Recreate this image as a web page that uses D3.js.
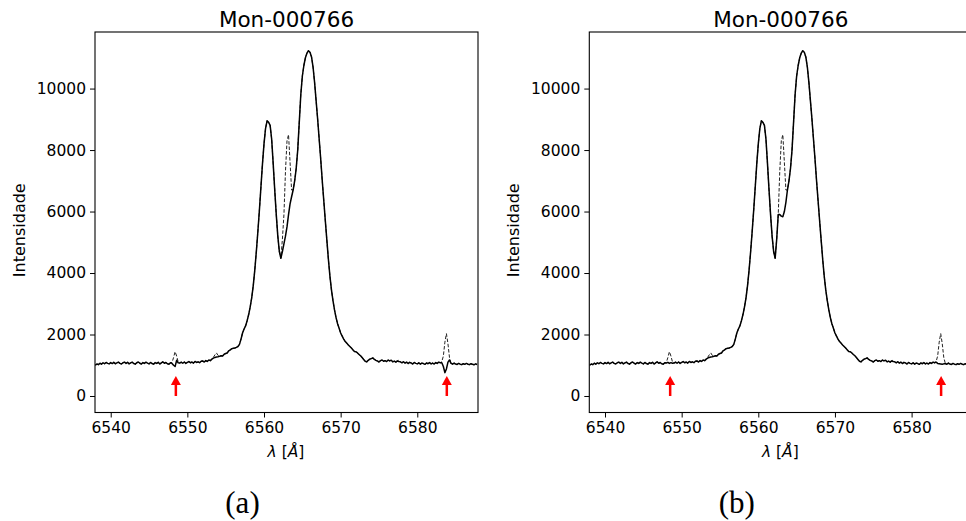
<!DOCTYPE html>
<html>
<head>
<meta charset="utf-8">
<script src="https://cdn.jsdelivr.net/npm/d3@7"></script>
<style>
  body { margin: 0; background: #fff; }
  svg { display: block; font-family: "DejaVu Sans", sans-serif; }
</style>
</head>
<body>
<svg id="chart" width="966" height="521"></svg>
<script>
const W = 966, H = 521;

// spectrum sampling: start wavelength and step (like CRVAL1 / CDELT1)
const lambdaStart = 6538.0, lambdaStep = 0.2;

// observed spectrum (dashed), one value per 0.2 A, 10 values per row
const observedFlux = [
  1000, 1040, 1020, 1065, 1035, 1080, 1050, 1090, 1060, 1045,
  1085, 1055, 1095, 1050, 1075, 1100, 1060, 1040, 1080, 1100,
  1060, 1095, 1045, 1075, 1100, 1055, 1035, 1080, 1105, 1065,
  1040, 1085, 1060, 1100, 1070, 1045, 1090, 1055, 1035, 1085,
  1060, 1095, 1040, 1075, 1110, 1065, 1090, 1050, 1035, 1080,
  1090, 1250, 1440, 1300, 1110, 1070, 1100, 1065, 1105, 1060,
  1095, 1120, 1080, 1105, 1070, 1125, 1090, 1110, 1085, 1130,
  1140, 1105, 1150, 1125, 1170, 1150, 1200, 1260, 1340, 1400,
  1320, 1290, 1310, 1300, 1360, 1380, 1400, 1470, 1500, 1540,
  1550, 1560, 1580, 1610, 1680, 1850, 2050, 2180, 2280, 2450,
  2650, 2900, 3200, 3600, 4100, 4700, 5350, 6050, 6800, 7550,
  8200, 8700, 8950, 8900, 8800, 8350, 7550, 6700, 5900, 5200,
  4700, 4480, 5100, 5900, 7300, 8300, 8500, 7600, 6700, 6700,
  7000, 7400, 8000, 8900, 9800, 10400, 10750, 11000, 11150, 11230,
  11180, 11030, 10700, 10200, 9600, 9000, 8350, 7700, 7000, 6350,
  5700, 5070, 4450, 3900, 3450, 3100, 2800, 2550, 2350, 2200,
  2050, 1950, 1850, 1770, 1720, 1660, 1610, 1560, 1500, 1450,
  1440, 1400, 1350, 1310, 1250, 1190, 1130, 1110, 1160, 1200,
  1215, 1240, 1190, 1160, 1140, 1105, 1150, 1170, 1130, 1150,
  1120, 1170, 1140, 1165, 1110, 1135, 1100, 1140, 1170, 1110,
  1080, 1115, 1070, 1100, 1055, 1095, 1075, 1040, 1090, 1060,
  1045, 1080, 1035, 1070, 1055, 1030, 1075, 1050, 1085, 1045,
  1070, 1040, 1085, 1060, 1100, 1080, 1120, 1300, 1750, 2030,
  1700, 1250, 1060, 1035, 1070, 1040, 1025, 1060, 1035, 1020,
  1050, 1030, 1060, 1035, 1020, 1050, 1030, 1015, 1045, 1025
];

// corrected spectra (solid): [wavelength, flux] where they differ from observed
const correctedA = [
  [6548.0, 1060], [6548.2, 1000], [6548.4, 960], [6548.6, 1160], [6548.8, 1080],
  [6553.4, 1230], [6553.6, 1255], [6553.8, 1270], [6554.0, 1275],
  [6562.4, 4700], [6562.6, 4950], [6562.8, 5200], [6563.0, 5500], [6563.2, 5900],
  [6563.4, 6250], [6563.6, 6480],
  [6577.6, 1120],
  [6583.2, 1080], [6583.4, 960], [6583.6, 760], [6583.8, 880], [6584.0, 1100],
  [6584.2, 1170], [6584.4, 1060]
];
const correctedB = [
  [6548.0, 1070], [6548.2, 1095], [6548.4, 1060], [6548.6, 1085], [6548.8, 1065],
  [6553.4, 1230], [6553.6, 1255], [6553.8, 1270], [6554.0, 1275],
  [6562.8, 5900], [6563.0, 5850], [6563.2, 5830], [6563.4, 6000], [6563.6, 6300],
  [6577.6, 1120],
  [6583.2, 1100], [6583.4, 1060], [6583.6, 1050], [6583.8, 1040], [6584.0, 1030],
  [6584.2, 1045], [6584.4, 1050]
];

const xTicks = [6540, 6550, 6560, 6570, 6580];
const yTicks = [0, 2000, 4000, 6000, 8000, 10000];
const arrowLambda = [6548.5, 6583.85];
const arrowTop = 620;
const panelTitle = "Mon-000766";
const panelCaption = ["(a)", "(b)"];

const observed = observedFlux.map((f, i) => ({ lam: +(lambdaStart + i * lambdaStep).toFixed(1), flux: f }));

function applyPatch(patch) {
  const m = new Map(patch.map(d => [d[0].toFixed(1), d[1]]));
  return observed.map(d => ({ lam: d.lam, flux: m.has(d.lam.toFixed(1)) ? m.get(d.lam.toFixed(1)) : d.flux }));
}
const corrected = [applyPatch(correctedA), applyPatch(correctedB)];

const svg = d3.select("#chart");
const pw = 383, plotTop = 32, plotBottom = 412.5;
const panelLeft = [95, 589.3];

const defs = svg.append("defs");

panelLeft.forEach((left, p) => {
  const x = d3.scaleLinear().domain([6537.95, 6587.92]).range([left, left + pw]);
  const y = d3.scaleLinear().domain([-537, 11840]).range([plotBottom, plotTop]);

  defs.append("clipPath").attr("id", "clip" + p)
    .append("rect").attr("x", left).attr("y", plotTop).attr("width", pw).attr("height", plotBottom - plotTop);

  const line = d3.line().x(d => x(d.lam)).y(d => y(d.flux));

  const g = svg.append("g");
  const plot = g.append("g").attr("clip-path", `url(#clip${p})`);

  plot.append("path").datum(observed)
    .attr("d", line).attr("fill", "none")
    .attr("stroke", "#222").attr("stroke-width", 1)
    .attr("stroke-dasharray", "3.5,1.8");

  plot.append("path").datum(corrected[p])
    .attr("d", line).attr("fill", "none")
    .attr("stroke", "#000").attr("stroke-width", 1.5)
    .attr("stroke-linejoin", "round");

  // red arrows marking telluric lines
  arrowLambda.forEach(l => {
    const ax = x(l), y0 = y(0), y1 = y(arrowTop);
    plot.append("line").attr("x1", ax).attr("x2", ax).attr("y1", y0).attr("y2", y1 + 6)
      .attr("stroke", "red").attr("stroke-width", 2.5);
    plot.append("path")
      .attr("d", `M${ax - 5},${y1 + 8}L${ax},${y1 - 1}L${ax + 5},${y1 + 8}Z`)
      .attr("fill", "red");
  });

  // axes
  g.append("g").attr("transform", `translate(0,${plotBottom})`)
    .call(d3.axisBottom(x).tickValues(xTicks).tickFormat(d3.format("d")).tickSize(5).tickPadding(4))
    .call(a => a.select(".domain").remove())
    .call(a => a.selectAll("text").attr("font-size", 15.5).attr("fill", "#000").attr("font-family", "DejaVu Sans"));

  g.append("g").attr("transform", `translate(${left},0)`)
    .call(d3.axisLeft(y).tickValues(yTicks).tickFormat(d3.format("d")).tickSize(5).tickPadding(4))
    .call(a => a.select(".domain").remove())
    .call(a => a.selectAll("text").attr("font-size", 15.5).attr("fill", "#000").attr("font-family", "DejaVu Sans"));

  g.append("rect").attr("x", left).attr("y", plotTop).attr("width", pw).attr("height", plotBottom - plotTop)
    .attr("fill", "none").attr("stroke", "#000").attr("stroke-width", 1.1);

  const cx = left + pw / 2;
  g.append("text").attr("x", cx).attr("y", 26.5).attr("text-anchor", "middle")
    .attr("font-size", 21.5).text(panelTitle);

  const xl = g.append("text").attr("x", cx - 0.5).attr("y", 457).attr("text-anchor", "middle")
    .attr("font-size", 15.5);
  xl.append("tspan").attr("font-style", "italic").text("λ");
  xl.append("tspan").text(" [");
  xl.append("tspan").attr("font-style", "italic").text("Å");
  xl.append("tspan").text("]");

  g.append("text").attr("transform", `translate(${left - 70},${(plotTop + plotBottom) / 2 + 8}) rotate(-90)`)
    .attr("text-anchor", "middle").attr("font-size", 16).text("Intensidade");

  g.append("text").attr("x", cx - 44).attr("y", 513).attr("text-anchor", "middle")
    .attr("font-family", "Liberation Serif, serif").attr("font-size", 31).text(panelCaption[p]);
});
</script>
</body>
</html>
